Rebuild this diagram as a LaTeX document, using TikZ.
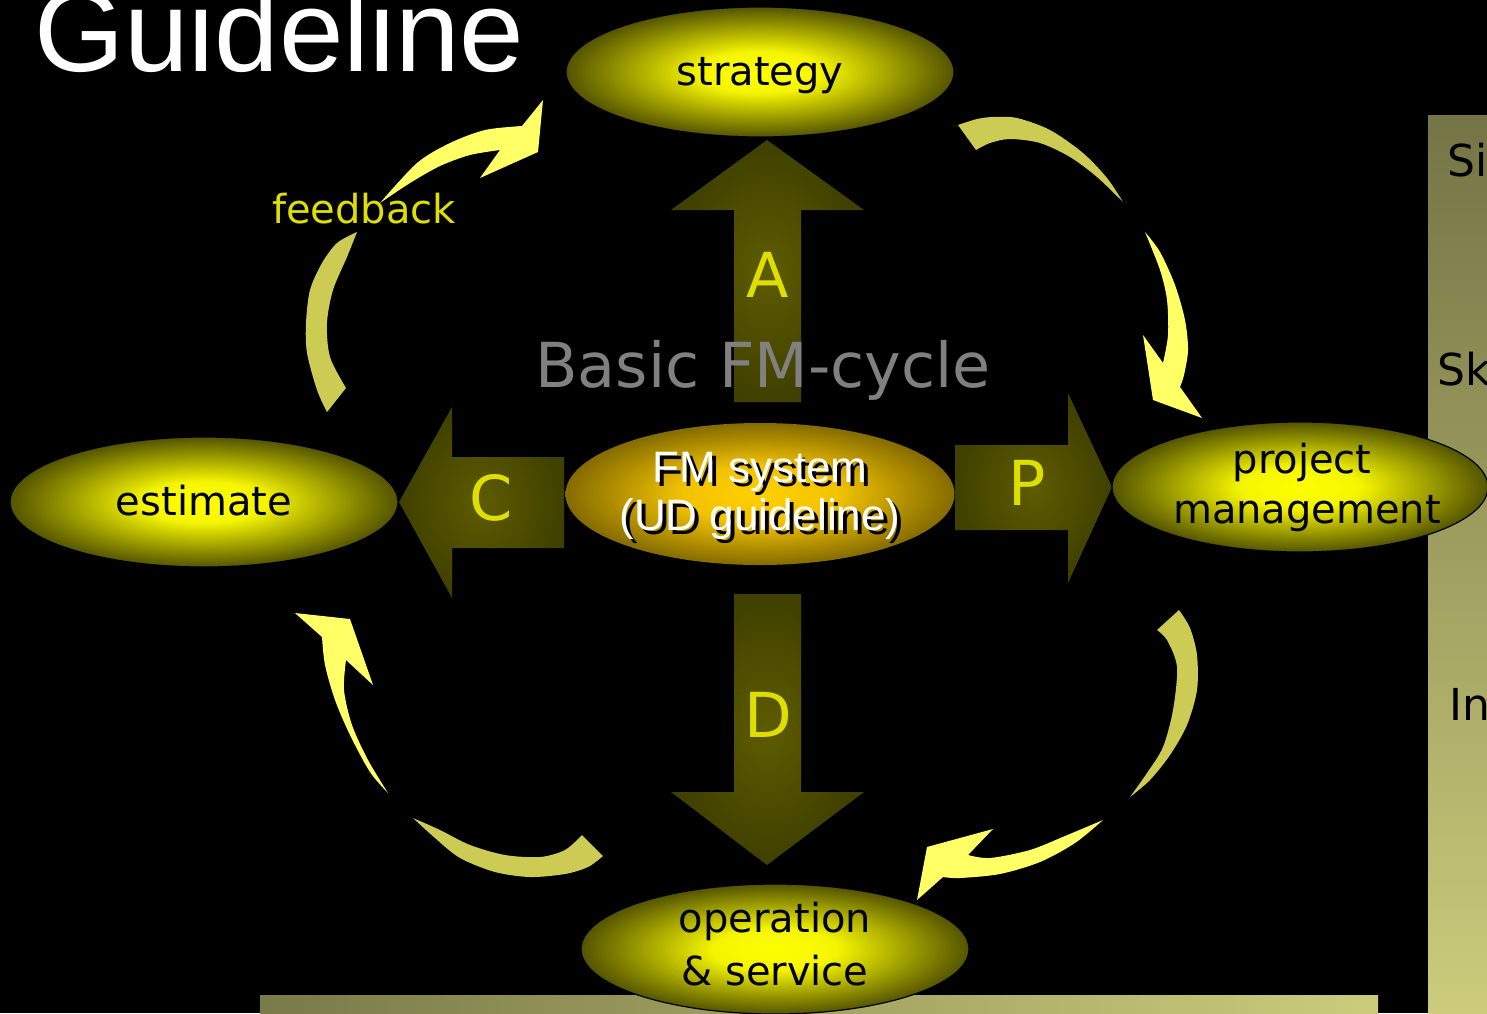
\documentclass[tikz,border=0pt]{standalone}
\usepackage{fontspec}
\setmainfont{DejaVu Sans}
\newfontfamily\arialfont{Liberation Sans}
\usetikzlibrary{shapes.geometric}

\definecolor{blass}{RGB}{204,204,85}
\definecolor{hell}{RGB}{255,255,102}
\definecolor{buchst}{RGB}{222,222,0}
\definecolor{balkenA}{RGB}{122,122,74}
\definecolor{balkenB}{RGB}{204,204,124}
\definecolor{grau}{RGB}{128,128,128}

\pgfdeclareradialshading{ellgelb}{\pgfpoint{0bp}{0bp}}{rgb(0bp)=(1,1,0); rgb(8bp)=(0.96,0.96,0); rgb(25bp)=(0.33,0.33,0); rgb(50bp)=(0.33,0.33,0)}
\pgfdeclareradialshading{ellorange}{\pgfpoint{0bp}{0bp}}{rgb(0bp)=(1,0.82,0); rgb(10bp)=(0.95,0.76,0); rgb(25bp)=(0.52,0.42,0); rgb(50bp)=(0.52,0.42,0)}
\pgfdeclareradialshading{pfeilolive}{\pgfpoint{0bp}{0bp}}{rgb(0bp)=(0.37,0.36,0); rgb(25bp)=(0.25,0.25,0); rgb(50bp)=(0.25,0.25,0)}

\newcommand{\txtM}{\fontsize{40}{48}\selectfont}
\newcommand{\txtS}{\fontsize{44}{52}\selectfont}
\newcommand{\txtL}{\fontsize{62}{74}\selectfont}
\newcommand{\txtFM}{\arialfont\fontsize{44}{52}\selectfont}
\newcommand{\txtXL}{\arialfont\fontsize{116}{134}\selectfont}

\tikzset{
	kreis/.style={ellipse, draw=black, line width=1.2pt, inner sep=0pt, shade,
		shading=ellgelb, minimum width=388pt, minimum height=130pt},
	kern/.style={ellipse, inner sep=0pt, shade, shading=ellorange,
		minimum width=389pt, minimum height=142pt},
	beschr/.style={inner sep=0pt, anchor=base, font=\txtM, text=black},
	buchstabe/.style={inner sep=0pt, anchor=base, font=\txtL, text=buchst},
	fmtext/.style={inner sep=0pt, anchor=base, font=\txtFM},
	seite/.style={inner sep=0pt, anchor=base west, font=\txtS, text=black},
	pfeil/.style={shade, shading=pfeilolive}
}

\begin{document}
\begin{tikzpicture}[x=1pt, y=-1pt]
	% Hintergrund
	\clip (0,0) rectangle (1487,1013);
	\fill[black] (0,0) rectangle (1487,1013);

	% Balken unten und rechts
	\shade[left color=balkenA, right color=balkenB] (260,995) rectangle (1378,1013);
	\shade[top color=balkenA!95!black, bottom color=balkenB] (1428,115) rectangle (1487,1013);
	\node[seite] (si) at (1447,176) {Si};
	\node[seite] (sk) at (1437,385) {Sk};
	\node[seite] (in) at (1449,720) {In};

	% Titel
	\node[inner sep=0pt, anchor=base west, font=\txtXL, text=white] (titel) at (34,71) {Guideline};

	% Kreislauf: oben links
	\fill[blass] plot[smooth] coordinates {(327,412) (317,390) (307,353) (306,323) (310,290) (322,263) (337,243) (357,232)}
		-- plot[smooth] coordinates {(357,232) (347,257) (333,290) (327,323) (330,357) (346,388)} -- cycle;
	\fill[hell] plot[smooth] coordinates {(380,203) (417,163) (450,143) (485,130) (522,126)}
		-- (543,100) -- (538,152) -- (480,178) -- (500,150)
		-- plot[smooth] coordinates {(500,150) (470,155) (440,166) (410,183) (380,203)} -- cycle;
	% oben rechts
	\fill[blass] plot[smooth] coordinates {(958,125) (977,119) (993,117) (1017,118) (1050,130) (1083,153) (1107,178) (1123,202)}
		-- plot[smooth] coordinates {(1123,202) (1097,177) (1070,157) (1040,143) (1010,139) (990,143) (976,150)} -- cycle;
	\fill[hell] plot[smooth] coordinates {(1145,232) (1160,252) (1175,285) (1185,320) (1188,350) (1184,375) (1180,387)}
		-- (1202,418) -- (1153,400) -- (1143,335) -- (1163,363)
		-- plot[smooth] coordinates {(1163,363) (1168,335) (1167,300) (1160,270) (1145,232)} -- cycle;
	% unten rechts
	\fill[blass] plot[smooth] coordinates {(1179,610) (1190,628) (1197,655) (1197,690) (1187,725) (1170,755) (1150,780) (1130,797)}
		-- plot[smooth] coordinates {(1130,797) (1147,773) (1163,747) (1173,710) (1177,667) (1167,640) (1157,630)} -- cycle;
	\fill[hell] plot[smooth] coordinates {(1103,820) (1075,843) (1040,862) (1000,874) (960,878) (943,877)}
		-- (917,900) -- (927,847) -- (993,829) -- (968,855)
		-- plot[smooth] coordinates {(968,855) (990,858) (1030,850) (1065,836) (1103,820)} -- cycle;
	% unten links
	\fill[blass] plot[smooth] coordinates {(603,856) (588,867) (565,874) (530,877) (495,872) (460,858) (435,838) (413,818)}
		-- plot[smooth] coordinates {(413,818) (440,830) (470,845) (505,855) (540,857) (565,850) (582,835)} -- cycle;
	\fill[hell] plot[smooth] coordinates {(388,793) (370,772) (350,735) (335,700) (325,665) (322,637)}
		-- (295,613) -- (350,619) -- (373,685) -- (346,660)
		-- plot[smooth] coordinates {(346,660) (344,690) (352,725) (368,760) (388,793)} -- cycle;
	\node[inner sep=0pt, anchor=base, font=\txtM, text=buchst] (feedback) at (364,223) {feedback};

	% Pfeile A, C, P, D
	\path[pfeil] (734,402) -- (734,210) -- (671,210) -- (767,140) -- (864,210) -- (801,210) -- (801,402) -- cycle;
	\path[pfeil] (564,457) -- (452,457) -- (452,407) -- (399,502) -- (452,598) -- (452,548) -- (564,548) -- cycle;
	\path[pfeil] (955,445) -- (1068,445) -- (1068,393) -- (1112,487) -- (1068,583) -- (1068,530) -- (955,530) -- cycle;
	\path[pfeil] (734,594) -- (734,792) -- (671,792) -- (767,865) -- (864,792) -- (801,792) -- (801,594) -- cycle;
	\node[buchstabe] (a) at (768,297) {A};
	\node[buchstabe] (c) at (491,520) {C};
	\node[buchstabe] (p) at (1027,505) {P};
	\node[buchstabe] (d) at (768,737) {D};

	\node[inner sep=0pt, anchor=base, font=\txtL, text=grau] (zyklus) at (763,387) {Basic FM-cycle};

	% Ellipsen
	\node[kreis] (strategie) at (760,72) {};
	\node[beschr] (tstrat) at (760,85) {strategy};
	\node[kreis] (schaetzung) at (204,502) {};
	\node[beschr] (tschaetz) at (204,515) {estimate};
	\node[kreis, minimum width=376pt] (projekt) at (1300,487) {};
	\node[beschr] (tproj1) at (1302,473) {project};
	\node[beschr] (tproj2) at (1307,523) {management};
	\node[kreis] (betrieb) at (775,949) {};
	\node[beschr] (tbetr1) at (775,932) {operation};
	\node[beschr] (tbetr2) at (775,985) {\& service};

	% FM system mit Schatten
	\node[kern] (fmsys) at (760,494) {};
	\node[fmtext, text=black] (fm1s) at (764,486) {FM system};
	\node[fmtext, text=white] (fm1) at (760,482) {FM system};
	\node[fmtext, text=black] (fm2s) at (764,534) {(UD guideline)};
	\node[fmtext, text=white] (fm2) at (760,530) {(UD guideline)};
\end{tikzpicture}
\end{document}
